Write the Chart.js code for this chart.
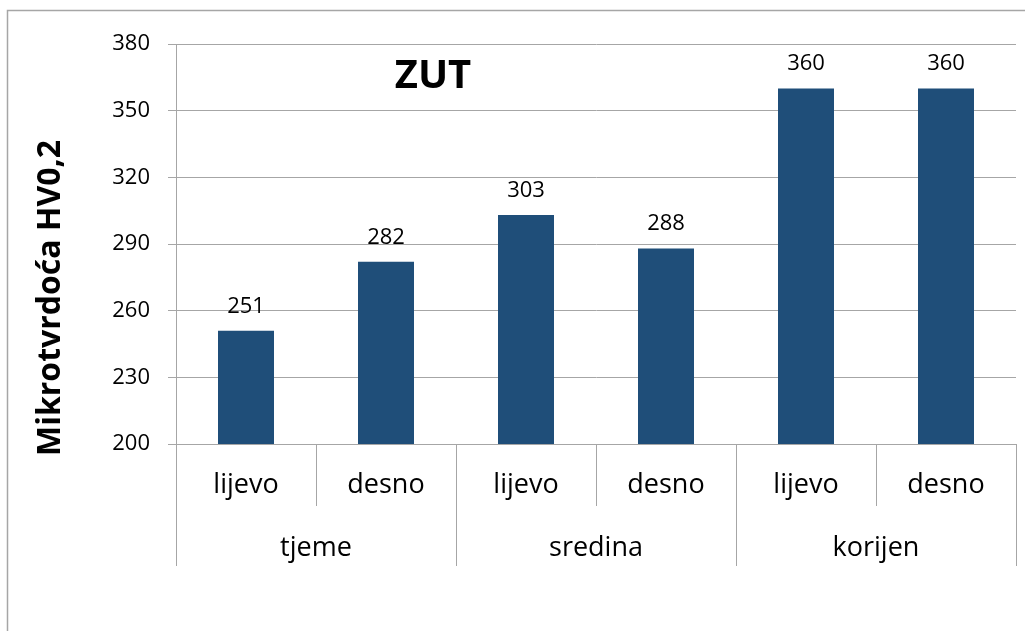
<!DOCTYPE html>
<html>
<head>
<meta charset="utf-8">
<title>ZUT</title>
<script src="https://cdn.jsdelivr.net/npm/chart.js@4"></script>
<style>
    html, body { margin: 0; padding: 0; background: #fff; }
    #wrap { width: 1025px; height: 631px; }
</style>
</head>
<body>
<div id="wrap"><canvas id="zutChart" width="1025" height="631"></canvas></div>
<script>
// Podaci
const strane = ['lijevo', 'desno', 'lijevo', 'desno', 'lijevo', 'desno'];
const zone = ['tjeme', 'sredina', 'korijen'];
const tvrdoca = [251, 282, 303, 288, 360, 360];
const yMin = 200;
const yMax = 380;
const yKorak = 30;

const FONT = "'Open Sans', 'DejaVu Sans', sans-serif";
const SIVA = '#a6a6a6';

// Okvir, naslov, oznake vrijednosti i dvorazinska os kategorija
const zutPlugin = {
    id: 'zutPlugin',
    beforeDraw(chart) {
        const ctx = chart.ctx;
        ctx.save();
        ctx.fillStyle = '#fff';
        ctx.fillRect(0, 0, chart.width, chart.height);
        ctx.strokeStyle = SIVA;
        ctx.lineWidth = 1.5;
        ctx.strokeRect(7.5, 10.5, chart.width + 20, chart.height + 20);
        ctx.restore();
    },
    afterDraw(chart) {
        const ctx = chart.ctx;
        const x = chart.scales.x;
        const area = chart.chartArea;
        const korak = x.getPixelForValue(1) - x.getPixelForValue(0);

        ctx.save();
        // separatori kategorija
        ctx.strokeStyle = SIVA;
        ctx.lineWidth = 1;
        for (let i = 0; i <= strane.length; i++) {
            const px = Math.round(x.getPixelForValue(i) - korak / 2) + 0.5;
            const kraj = (i % 2 === 0) ? area.bottom + 122 : area.bottom + 62;
            ctx.beginPath();
            ctx.moveTo(px, area.bottom);
            ctx.lineTo(px, kraj);
            ctx.stroke();
        }

        // nazivi zona
        ctx.fillStyle = '#000';
        ctx.font = '27px ' + FONT;
        ctx.textAlign = 'center';
        ctx.textBaseline = 'middle';
        zone.forEach((z, i) => {
            const cx = (x.getPixelForValue(i * 2) + x.getPixelForValue(i * 2 + 1)) / 2;
            ctx.fillText(z, cx, area.bottom + 104);
        });

        // vrijednosti iznad stupaca
        ctx.font = '22px ' + FONT;
        ctx.textBaseline = 'alphabetic';
        const meta = chart.getDatasetMeta(0);
        meta.data.forEach((bar, i) => {
            ctx.fillText(String(tvrdoca[i]), bar.x, bar.y - 18);
        });

        // naslov
        ctx.font = 'bold 40px ' + FONT;
        ctx.textAlign = 'center';
        ctx.textBaseline = 'middle';
        ctx.fillText('ZUT', 433, 77);

        // naslov osi y
        ctx.translate(51, 298);
        ctx.rotate(-Math.PI / 2);
        ctx.font = 'bold 32px ' + FONT;
        ctx.fillText('Mikrotvrdoća HV0,2', 0, 0);
        ctx.restore();
    }
};

const chart = new Chart(document.getElementById('zutChart'), {
    type: 'bar',
    data: {
        labels: strane,
        datasets: [{
            data: tvrdoca,
            backgroundColor: '#1F4E79',
            borderWidth: 0,
            barPercentage: 0.4,
            categoryPercentage: 1
        }]
    },
    options: {
        responsive: false,
        animation: false,
        layout: {
            padding: { top: 44, left: 0, right: 9, bottom: 0 }
        },
        plugins: {
            legend: { display: false },
            tooltip: { enabled: false }
        },
        scales: {
            x: {
                offset: true,
                afterFit: s => { s.height = 187; },
                grid: { display: false, drawTicks: false },
                border: { display: true, color: SIVA, width: 1 },
                ticks: {
                    color: '#000',
                    padding: 25,
                    font: { family: FONT, size: 27 }
                }
            },
            y: {
                min: yMin,
                max: yMax,
                afterFit: s => { s.width = 176; },
                grid: {
                    color: SIVA,
                    tickLength: 8,
                    tickColor: SIVA
                },
                border: { display: true, color: SIVA, width: 1 },
                ticks: {
                    stepSize: yKorak,
                    color: '#000',
                    padding: 18,
                    font: { family: FONT, size: 22 }
                }
            }
        }
    },
    plugins: [zutPlugin]
});
</script>
</body>
</html>
